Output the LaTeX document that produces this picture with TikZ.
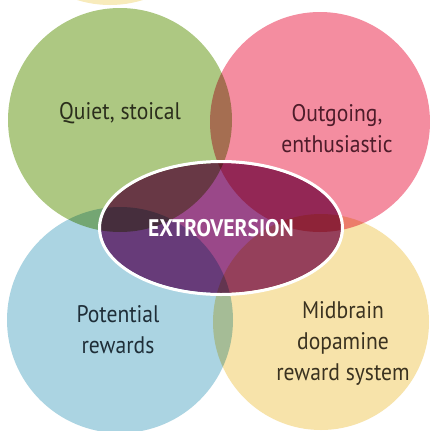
\documentclass[tikz,border=0pt]{standalone}
\usepackage{fontspec}
\usetikzlibrary{shapes.geometric}
\newfontfamily\lab[FakeStretch=0.9]{PT Sans}
\newfontfamily\labb[FakeStretch=0.9]{PT Sans Bold}
\definecolor{cgreen}{HTML}{ADC882}
\definecolor{cpink}{HTML}{F48DA0}
\definecolor{cblue}{HTML}{ABD4E2}
\definecolor{cyellow}{HTML}{F7E3AA}
\definecolor{ctop}{HTML}{F8EBBB}
\definecolor{cell}{HTML}{9A4889}
\definecolor{tgreen}{HTML}{2B2E1C}
\definecolor{tpink}{HTML}{4E1C2A}
\definecolor{tblue}{HTML}{1F2E38}
\definecolor{tyellow}{HTML}{3A3220}
\tikzset{
  lbl/.style={font=\lab\fontsize{24}{31}\selectfont, align=center, inner sep=0pt},
  circ/.style={circle, inner sep=0pt, minimum size=#1, draw=none}
}
\begin{document}
\begin{tikzpicture}[x=1pt,y=-1pt]
\useasboundingbox (0,0) rectangle (430,431);
\fill[white] (0,0) rectangle (430,431);
\begin{scope}
\clip (0,0) rectangle (430,431);
\begin{scope}[blend mode=multiply]
\node[circ=220, fill=ctop] (top) at (110,-105) {};
\node[circ=224, fill=cgreen] (green) at (120,120) {};
\node[circ=220, fill=cpink] (pink) at (320,122) {};
\node[circ=226, fill=cblue] (blue) at (120,320) {};
\node[circ=216, fill=cyellow] (yellow) at (321,322) {};
\fill[cell] (221,228) ellipse [x radius=120, y radius=65];
\end{scope}
\end{scope}
\node[draw=white, line width=3pt, ellipse, minimum width=243, minimum height=133, inner sep=0pt] (ell) at (221,228) {};
\node[font=\labb\fontsize{24}{28}\selectfont, text=white, inner sep=0pt] (ext) at (ell.center) {EXTROVERSION};
\node[lbl, text=tgreen] (q) at (120,113) {Quiet, stoical};
\node[lbl, text=tpink] (o) at (337,129) {Outgoing,\\enthusiastic};
\node[lbl, text=tblue] (p) at (118,330) {Potential\\rewards};
\node[lbl, text=tyellow] (m) at (343,343) {Midbrain\\dopamine\\reward system};
\end{tikzpicture}
\end{document}
